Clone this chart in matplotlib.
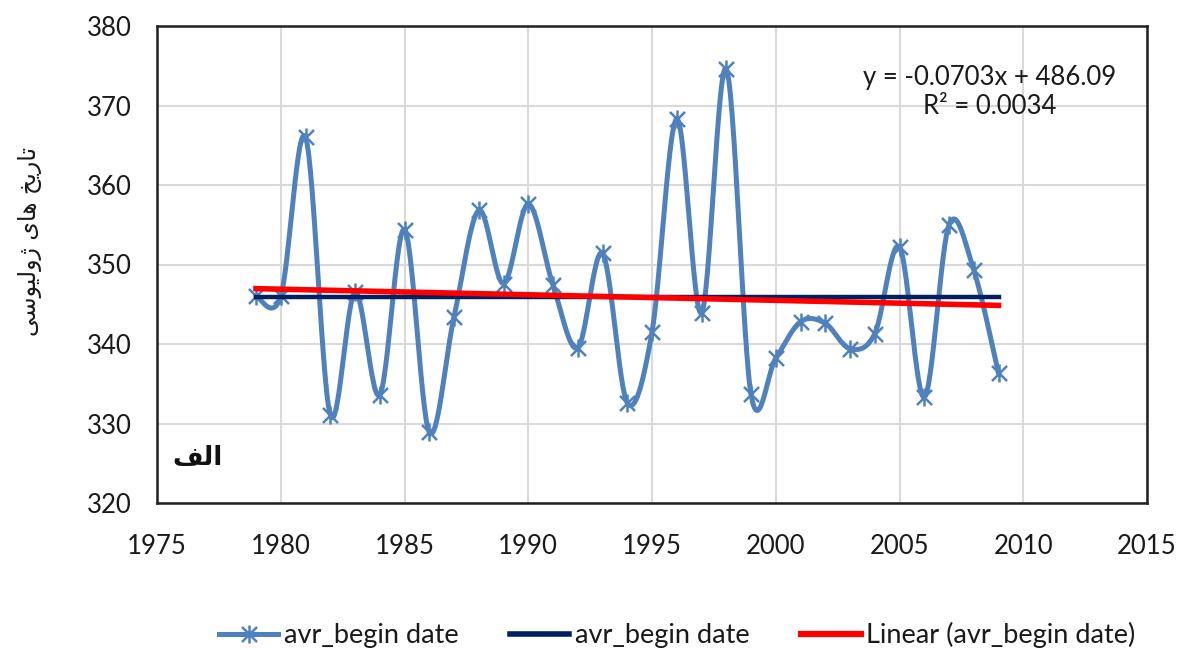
import numpy as np
import matplotlib
matplotlib.use("Agg")
import matplotlib.pyplot as plt
from matplotlib.path import Path
from matplotlib.lines import Line2D

# ---------------- data ----------------
years = [1979, 1980, 1981, 1982, 1983, 1984, 1985, 1986, 1987, 1988,
         1989, 1990, 1991, 1992, 1993, 1994, 1995, 1996, 1997, 1998,
         1999, 2000, 2001, 2002, 2003, 2004, 2005, 2006, 2007, 2008, 2009]
begin_dates = [346.0, 346.0, 366.0, 331.1, 346.5, 333.6, 354.4, 328.9, 343.4, 356.8,
               347.6, 357.6, 347.4, 339.5, 351.4, 332.6, 341.5, 368.3, 343.9, 374.6,
               333.7, 338.2, 342.8, 342.6, 339.4, 341.3, 352.2, 333.3, 355.0, 349.3, 336.3]
avg_years = [1979, 2009]
avg_values = [345.9, 345.9]
trend_slope = -0.0703
trend_intercept = 486.09
trend_r2 = 0.0034

x_ticks = [1975, 1980, 1985, 1990, 1995, 2000, 2005, 2010, 2015]
y_ticks = [320, 330, 340, 350, 360, 370, 380]
series_label = "avr_begin date"
trend_label = "Linear (avr_begin date)"

# Arabic/Persian strings pre-shaped (presentation forms, visual order)
def visual(s):
    return s[::-1]

# تاریخ های ژولیوسی
ylabel_logical = ("\uFE97\uFE8E\uFEAD\uFEF3\uFEA6" + " " +
                  "\uFEEB\uFE8E\uFEEF" + " " +
                  "\u0698\uFEED\uFEDF\uFEF4\uFEEE\uFEB3\uFEF0")
ylabel_text = visual(ylabel_logical)
# الف
panel_logical = "\uFE8D\uFEDF\uFED2"
panel_text = visual(panel_logical)

# ---------------- style ----------------
plt.rcParams['font.family'] = ['Lato', 'DejaVu Sans']
FS = 18.5
LFS = 19.5
TXT = '#1a1a1a'
BLUE = '#4F81BD'
NAVY = '#002060'
RED = '#FF0000'

star = Path([(-1, -1), (1, 1), (-1, 1), (1, -1), (0, -1.2), (0, 1.2)],
            [Path.MOVETO, Path.LINETO, Path.MOVETO, Path.LINETO, Path.MOVETO, Path.LINETO])

fig = plt.figure(figsize=(11.83, 6.5), dpi=100)
ax = fig.add_axes([157 / 1183, 1 - 503 / 650, 990 / 1183, 477 / 650])

# smoothed (Catmull-Rom / Bezier) curve like Excel's smoothed line
def smooth(xs, ys, n=30):
    P = np.column_stack([xs, ys]).astype(float)
    out = [P[0]]
    t = np.linspace(0, 1, n)[1:, None]
    for i in range(len(P) - 1):
        p0 = P[i - 1] if i > 0 else P[i]
        p1 = P[i]
        p2 = P[i + 1]
        p3 = P[i + 2] if i + 2 < len(P) else P[i + 1]
        c1 = p1 + (p2 - p0) / 6.0
        c2 = p2 - (p3 - p1) / 6.0
        seg = ((1 - t) ** 3) * p1 + 3 * ((1 - t) ** 2) * t * c1 + 3 * (1 - t) * t ** 2 * c2 + t ** 3 * p2
        out.extend(seg)
    out = np.array(out)
    return out[:, 0], out[:, 1]

sx, sy = smooth(years, begin_dates)
ax.plot(sx, sy, color=BLUE, lw=3.6, solid_capstyle='round', zorder=3)
ax.plot(years, begin_dates, linestyle='none', marker=star, markersize=13,
        markeredgewidth=1.8, markeredgecolor=BLUE, markerfacecolor='none', zorder=4)

ax.plot(avg_years, avg_values, color=NAVY, lw=3.2, zorder=5)

tx = np.array([years[0], years[-1]], dtype=float)
ax.plot(tx, trend_slope * tx + trend_intercept, color=RED, lw=4.0, zorder=6)

ax.set_xlim(x_ticks[0], x_ticks[-1])
ax.set_ylim(y_ticks[0], y_ticks[-1])
ax.set_xticks(x_ticks)
ax.set_yticks(y_ticks)
ax.set_xticklabels([str(v) for v in x_ticks], fontsize=FS, color=TXT)
ax.set_yticklabels([str(v) for v in y_ticks], fontsize=FS, color=TXT)
ax.tick_params(axis='both', length=0)
ax.tick_params(axis='x', pad=22)
ax.tick_params(axis='y', pad=18)
ax.grid(True, color='#D9D9D9', lw=1.5, zorder=0)
ax.set_axisbelow(True)
for sp in ax.spines.values():
    sp.set_color('#202020')
    sp.set_linewidth(1.8)

fig.text(990 / 1183, 1 - 92 / 650,
         "y = %.4fx + %.2f\nR² = %.4f" % (trend_slope, trend_intercept, trend_r2),
         fontsize=FS, color=TXT, ha='center', va='center', linespacing=1.25)

ax.text(0.041, 0.094, panel_text, transform=ax.transAxes, fontsize=19,
        fontweight='bold', family=['DejaVu Sans'], ha='center', va='center', color='#111111')

fig.text(30 / 1183, 1 - 241 / 650, ylabel_text, rotation=90, fontsize=17,
         family=['DejaVu Sans'], ha='center', va='center', color=TXT)

handles = [
    Line2D([], [], color=BLUE, lw=3.6, marker=star, markersize=13, markeredgewidth=1.8,
           markeredgecolor=BLUE, markerfacecolor='none'),
    Line2D([], [], color=NAVY, lw=4.0),
    Line2D([], [], color=RED, lw=4.5),
]
fig.legend(handles, [series_label, series_label, trend_label], loc='center',
           bbox_to_anchor=(677 / 1183, 15 / 650), ncol=3, frameon=False,
           fontsize=LFS, handlelength=2.2, handletextpad=0.2, columnspacing=1.9,
           labelcolor=TXT)

fig.savefig("out.png", dpi=100)
